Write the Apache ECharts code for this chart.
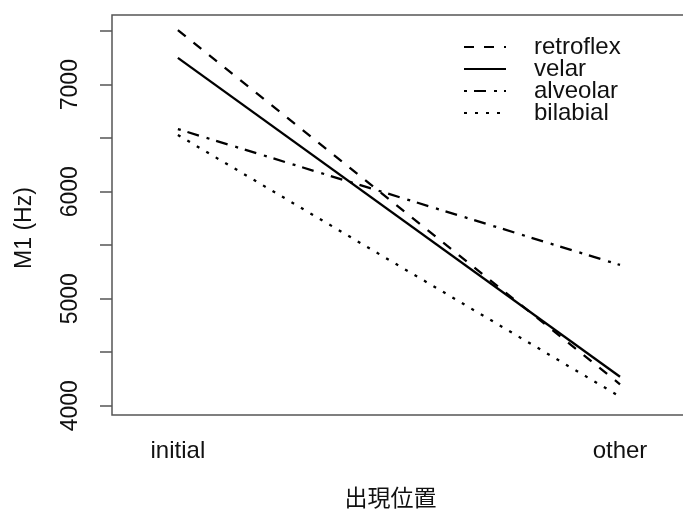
<!DOCTYPE html>
<html><head><meta charset="utf-8">
<script src="https://cdn.jsdelivr.net/npm/echarts@6/dist/echarts.min.js"></script>
<style>html,body{margin:0;padding:0;background:#fff}#c{width:683px;height:512px}</style>
</head><body><div id="c"></div>
<script>
const positions = ['initial', 'other'];
const seriesNames = ['retroflex', 'velar', 'alveolar', 'bilabial'];
const retroflex = [7510, 4200];
const velar = [7250, 4270];
const alveolar = [6585, 5315];
const bilabial = [6530, 4085];
const yTicks = [4000, 4500, 5000, 5500, 6000, 6500, 7000, 7500];
const yLabels = [4000, 5000, 6000, 7000];

const values = [retroflex, velar, alveolar, bilabial];
const dashes = [[10, 10], 'solid', [3, 7, 12, 8], [3, 8]];
const font = '"Liberation Sans", Arial, sans-serif';

const chart = echarts.init(document.getElementById('c'));
chart.setOption({
  animation: false,
  backgroundColor: '#fff',
  grid: { left: 112, top: 15, right: -2, bottom: 97, outerBoundsMode: 'none', containLabel: false, show: true, borderColor: '#555', borderWidth: 1.5, backgroundColor: 'transparent' },
  legend: {
    data: seriesNames, orient: 'vertical', left: 463, top: 35, padding: 0,
    itemWidth: 42, itemHeight: 14, itemGap: -2,
    itemStyle: { opacity: 0 },
    textStyle: { fontSize: 24, lineHeight: 20, color: '#111', fontFamily: font, padding: [0, 0, 0, 23] }
  },
  xAxis: {
    type: 'value', min: 0.851, max: 2.147,
    axisLine: { show: false }, axisTick: { show: false }, splitLine: { show: false },
    axisLabel: { customValues: [1, 2], formatter: v => positions[Math.round(v) - 1], fontSize: 24, color: '#111', fontFamily: font, margin: 24 },
    name: '出現位置', nameLocation: 'middle', nameGap: 71,
    nameTextStyle: { fontSize: 23, color: '#111', fontFamily: '"Noto Sans CJK JP", sans-serif', padding: [0, 16, 0, 0] }
  },
  yAxis: {
    type: 'value', min: 3913, max: 7651,
    axisLine: { show: false }, splitLine: { show: false },
    axisTick: { show: true, customValues: yTicks, length: 12, lineStyle: { color: '#555', width: 1.5 } },
    axisLabel: { customValues: yLabels, formatter: v => String(v), rotate: 90, fontSize: 23, color: '#111', fontFamily: font, margin: 30 },
    name: 'M1 (Hz)', nameLocation: 'middle', nameGap: 76,
    nameTextStyle: { fontSize: 23, color: '#111', fontFamily: font, padding: [0, 26, 0, 0] }
  },
  series: seriesNames.map((n, i) => ({
    name: n, type: 'line', symbol: 'none',
    data: values[i].map((v, j) => [j + 1, v]),
    lineStyle: { color: '#000', width: 2.3, type: dashes[i], cap: 'butt' },
    itemStyle: { color: '#000' }
  }))
});
</script></body></html>
